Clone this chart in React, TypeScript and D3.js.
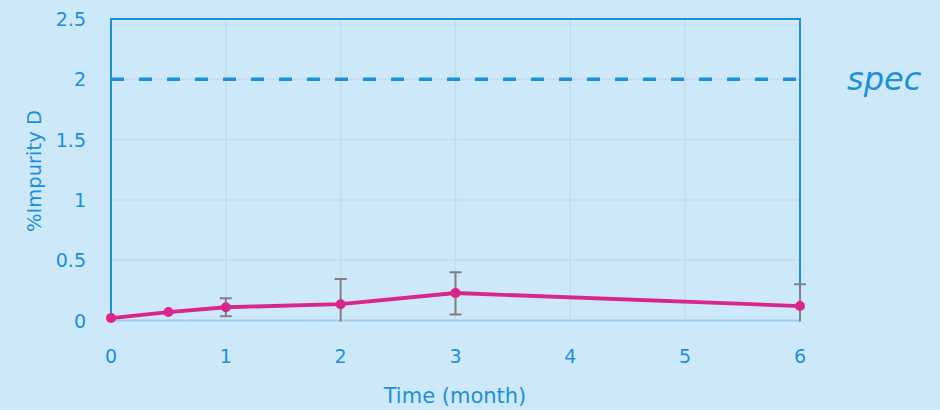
import React from "react";
import * as d3 from "d3";

const months = [0, 0.5, 1, 2, 3, 6];
const impurity = [0.02, 0.07, 0.11, 0.135, 0.228, 0.12];
const errLow = [null, null, 0.035, -0.08, 0.05, -0.1];
const errHigh = [null, null, 0.185, 0.345, 0.4, 0.3];
const xTicks = [0, 1, 2, 3, 4, 5, 6];
const yTicks = [0, 0.5, 1, 1.5, 2, 2.5];
const specValue = 2;

const W = 940, H = 410;
const m = { left: 111, right: 800, top: 19, bottom: 320.5 };
const txt = "#1b90da";
const font = "'DejaVu Sans', sans-serif";

export default function App() {
  const x = d3.scaleLinear().domain([0, 6]).range([m.left, m.right]);
  const y = d3.scaleLinear().domain([0, 2.5]).range([m.bottom, m.top]);
  const line = d3.line<number>().x((_, i) => x(months[i])).y((v) => y(v));
  return (
    <svg width={W} height={H} style={{ position: "absolute", left: 0, top: 0, background: "#cde9f9" }}>
      <defs>
        <clipPath id="plot"><rect x={0} y={m.top} width={W} height={m.bottom - m.top + 1} /></clipPath>
      </defs>
      <rect x={0} y={0} width={W} height={H} fill="#cde9f9" />
      {yTicks.filter((t) => t > 0 && t < 2.5).map((t) => (
        <line key={"gy" + t} x1={m.left} x2={m.right} y1={y(t)} y2={y(t)} stroke="#c4dcea" strokeWidth={1.5} />
      ))}
      {xTicks.filter((t) => t > 0 && t < 6).map((t) => (
        <line key={"gx" + t} x1={x(t)} x2={x(t)} y1={m.top} y2={m.bottom} stroke="#c4dcea" strokeWidth={1.5} />
      ))}
      <line x1={m.left} x2={m.right} y1={m.bottom} y2={m.bottom} stroke="#9ecbea" strokeWidth={2} />
      <path d={`M${m.left},${m.bottom}V${m.top}H${m.right}V${m.bottom}`} fill="none" stroke="#1b90da" strokeWidth={2} />
      <line x1={m.left} x2={m.right} y1={y(specValue)} y2={y(specValue)} stroke="#1b90da" strokeWidth={3.5} strokeDasharray="13 15" />
      <text x={847} y={90} fill={txt} fontFamily={font} fontStyle="italic" fontSize={32}>spec</text>
      <g clipPath="url(#plot)">
        {months.map((mo, i) => errHigh[i] == null ? null : (
          <g key={"e" + i} stroke="#808080" strokeWidth={2}>
            <line x1={x(mo)} x2={x(mo)} y1={y(errLow[i] as number)} y2={y(errHigh[i] as number)} />
            <line x1={x(mo) - 6} x2={x(mo) + 6} y1={y(errHigh[i] as number)} y2={y(errHigh[i] as number)} />
            <line x1={x(mo) - 6} x2={x(mo) + 6} y1={y(errLow[i] as number)} y2={y(errLow[i] as number)} />
          </g>
        ))}
      </g>
      <path d={line(impurity) || ""} fill="none" stroke="#d9268a" strokeWidth={3.8} />
      {months.map((mo, i) => (
        <circle key={"p" + i} cx={x(mo)} cy={y(impurity[i])} r={5} fill="#d9268a" />
      ))}
      {yTicks.map((t) => (
        <text key={"yt" + t} x={86} y={y(t) + 7} fill={txt} fontFamily={font} fontSize={19} textAnchor="end">{t}</text>
      ))}
      {xTicks.map((t) => (
        <text key={"xt" + t} x={x(t)} y={363} fill={txt} fontFamily={font} fontSize={19} textAnchor="middle">{t}</text>
      ))}
      <text x={455} y={403} fill={txt} fontFamily={font} fontSize={21} textAnchor="middle">Time (month)</text>
      <text transform={`translate(41,171) rotate(-90)`} fill={txt} fontFamily={font} fontSize={19.5} textAnchor="middle">%Impurity D</text>
    </svg>
  );
}
